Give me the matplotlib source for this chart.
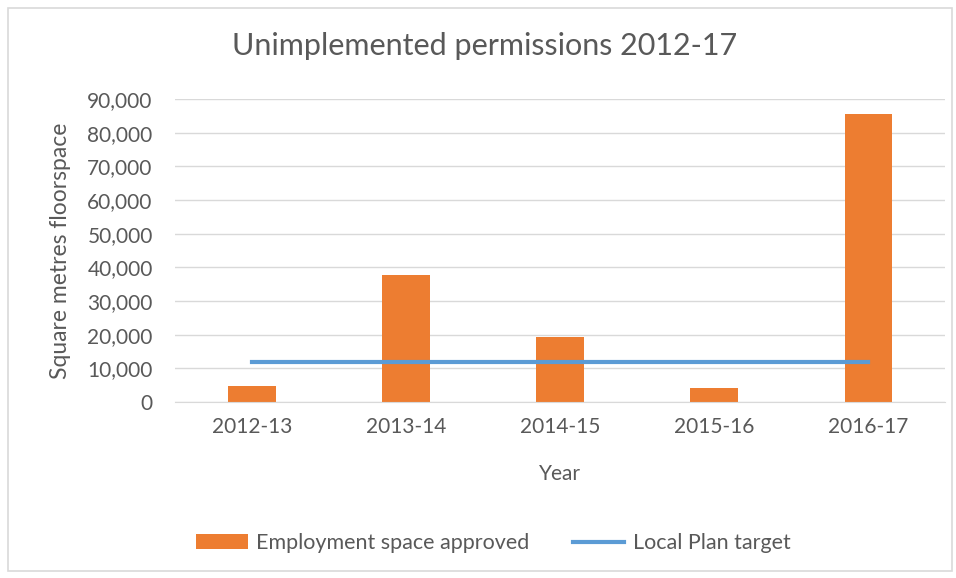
import matplotlib.pyplot as plt
import matplotlib.ticker as mticker

years = ['2012-13', '2013-14', '2014-15', '2015-16', '2016-17']
approved = [4750, 37700, 19200, 4300, 85600]
target = [12000, 12000, 12000, 12000, 12000]

plt.rcParams['font.family'] = ['Lato', 'DejaVu Sans']
txt = '#595959'

fig = plt.figure(figsize=(9.56, 5.78), dpi=100)
# light frame round the chart
fig.patches.append(plt.Rectangle((0.008, 0.012), 0.988, 0.975, transform=fig.transFigure,
                                 fill=False, edgecolor='#d9d9d9', linewidth=1.2))

ax = fig.add_axes([0.183, 0.3045, 0.806, 0.5242])
x = range(len(years))
bars = ax.bar(x, approved, width=0.31, color='#ed7d31', label='Employment space approved', zorder=2)
line, = ax.plot(x, target, color='#5b9bd5', linewidth=3, label='Local Plan target', zorder=3)

ax.set_ylim(0, 90000)
ax.set_xlim(-0.5, 4.5)
ax.yaxis.set_major_locator(mticker.MultipleLocator(10000))
ax.yaxis.set_major_formatter(mticker.FuncFormatter(lambda v, p: f'{int(v):,}'))
ax.set_xticks(list(x))
ax.set_xticklabels(years)
ax.grid(axis='y', color='#d9d9d9', linewidth=1, zorder=0)
for s in ['top', 'right', 'left']:
    ax.spines[s].set_visible(False)
ax.spines['bottom'].set_color('#d9d9d9')
ax.tick_params(length=0, labelsize=15, colors=txt)
ax.tick_params(axis='y', pad=16)
ax.tick_params(axis='x', pad=11)

fig.suptitle('Unimplemented permissions 2012-17', x=0.507, y=0.945, fontsize=22,
             color=txt)
ax.set_xlabel('Year', fontsize=15, color=txt)
ax.set_ylabel('Square metres floorspace', fontsize=16.5, color=txt)
ax.xaxis.set_label_coords(0.5, -0.205)
ax.yaxis.set_label_coords(-0.135, 0.5)

fig.legend([bars, line], ['Employment space approved', 'Local Plan target'],
           loc='center', bbox_to_anchor=(0.516, 0.06), ncol=2, frameon=False,
           fontsize=15.5, labelcolor=txt, handlelength=2.4, columnspacing=2.0,
           handletextpad=0.4)

fig.savefig('out.png', dpi=100)
